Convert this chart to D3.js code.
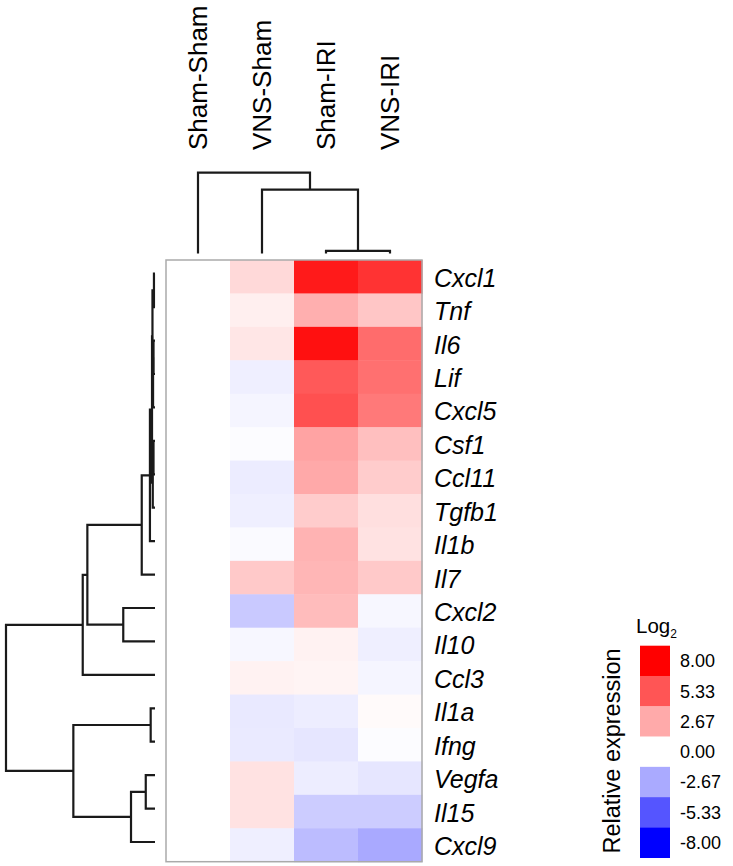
<!DOCTYPE html>
<html><head><meta charset="utf-8">
<script src="https://cdn.jsdelivr.net/npm/d3@7"></script>
<style>
body{margin:0;background:#fff}
svg{display:block}
text{font-family:"Liberation Sans",Arial,Helvetica,sans-serif;fill:#000}
</style>
</head><body>
<svg id="chart" width="733" height="866"></svg>
<script>
// ---------- data ----------
const genes = ["Cxcl1","Tnf","Il6","Lif","Cxcl5","Csf1","Ccl11","Tgfb1","Il1b","Il7","Cxcl2","Il10","Ccl3","Il1a","Ifng","Vegfa","Il15","Cxcl9"];
const groups = ["Sham-Sham","VNS-Sham","Sham-IRI","VNS-IRI"];
const shamSham = [0,0,0,0,0,0,0,0,0,0,0,0,0,0,0,0,0,0];
const vnsSham  = [1.2,0.5,0.8,-0.5,-0.3,-0.1,-0.6,-0.5,-0.15,1.7,-1.7,-0.25,0.4,-0.7,-0.65,0.9,0.9,-0.5];
const shamIRI  = [7.2,2.5,7.5,5.2,5.5,2.9,2.7,1.6,2.4,2.3,2.1,0.4,0.35,-0.55,-0.8,-0.55,-1.6,-2.1];
const vnsIRI   = [6.4,1.8,4.6,4.5,4.2,2.0,1.6,1.0,0.9,1.7,-0.25,-0.5,-0.3,0.15,-0.1,-0.8,-1.6,-2.7];
const legendTicks  = [8, 5.33, 2.67, 0, -2.67, -5.33, -8];
const legendLabels = ["8.00","5.33","2.67","0.00","-2.67","-5.33","-8.00"];
// row dendrogram merges: [node, left, right, height]
const rowMerges = [
  ["a","Cxcl1","Tnf",0.007],
  ["b","Il6","Lif",0.010],
  ["c","b","Cxcl5",0.013],
  ["d","a","c",0.017],
  ["e","Csf1","Ccl11",0.010],
  ["f","e","Tgfb1",0.015],
  ["g","d","f",0.020],
  ["F","g","Il1b",0.034],
  ["D","F","Il7",0.089],
  ["E","Cxcl2","Il10",0.213],
  ["C","D","E",0.454],
  ["A","C","Ccl3",0.485],
  ["H","Il1a","Ifng",0.029],
  ["J","Vegfa","Il15",0.062],
  ["I","J","Cxcl9",0.161],
  ["B","H","I",0.548],
  ["R","A","B",1.0]
];
// column dendrogram merges
const colMerges = [
  ["c1","Sham-IRI","VNS-IRI",0.033],
  ["c2","VNS-Sham","c1",0.79],
  ["c3","Sham-Sham","c2",1.0]
];

// ---------- layout ----------
const svg = d3.select("#chart");
const hm = {x0:166, x1:422, y0:260, y1:861.7};
const x = d3.scaleBand().domain(groups).range([hm.x0, hm.x1]);
const y = d3.scaleBand().domain(genes).range([hm.y0, hm.y1]);
const color = d3.scaleLinear().domain([-8,0,8]).range(["#0000ff","#ffffff","#ff0000"]).clamp(true);

const series = [shamSham, vnsSham, shamIRI, vnsIRI];
const cells = [];
groups.forEach((g,ci)=>genes.forEach((gene,ri)=>cells.push({g, gene, v: series[ci][ri]})));

svg.append("g").selectAll("rect").data(cells).join("rect")
  .attr("x", d=>x(d.g)).attr("y", d=>y(d.gene))
  .attr("width", x.bandwidth()+0.5).attr("height", y.bandwidth()+0.5)
  .attr("fill", d=>color(d.v));

svg.append("rect").attr("x",hm.x0).attr("y",hm.y0)
  .attr("width",hm.x1-hm.x0).attr("height",hm.y1-hm.y0)
  .attr("fill","none").attr("stroke","#aaaaaa").attr("stroke-width",1.5);

// gene labels
svg.append("g").selectAll("text").data(genes).join("text")
  .attr("x", 434).attr("y", d=>y(d)+y.bandwidth()/2+10)
  .attr("font-size", 25).attr("font-style","italic")
  .text(d=>d);

// column labels
svg.append("g").selectAll("text").data(groups).join("text")
  .attr("transform", d=>`translate(${x(d)+x.bandwidth()/2},150) rotate(-90)`)
  .attr("text-anchor","start").attr("dy","0.36em")
  .attr("font-size", 26)
  .text(d=>d);

// ---------- dendrograms ----------
function buildTree(merges){
  const nodes = {};
  merges.forEach(([id,l,r,h])=>{
    nodes[id] = {name:id, height:h, children:[nodes[l]||{name:l,height:0}, nodes[r]||{name:r,height:0}]};
  });
  return d3.hierarchy(nodes[merges[merges.length-1][0]]);
}
function drawDendro(root, leafPos, hPos, horizontal){
  root.eachAfter(n=>{
    n.p = n.children ? d3.mean(n.children, c=>c.p) : leafPos(n.data.name);
    n.h = hPos(n.data.height);
  });
  const segs = [];
  root.each(n=>{
    if(!n.children) return;
    const [a,b] = n.children;
    segs.push([[a.h,a.p],[n.h,a.p],[n.h,b.p],[b.h,b.p]]);
  });
  const line = d3.line().x(d=>horizontal?d[0]:d[1]).y(d=>horizontal?d[1]:d[0]);
  svg.append("g").selectAll("path").data(segs).join("path")
    .attr("d", line).attr("fill","none").attr("stroke","#1a1a1a").attr("stroke-width",2.2);
}
const rowH = d3.scaleLinear().domain([0,1]).range([155,6]);
drawDendro(buildTree(rowMerges), g=>y(g)+y.bandwidth()/2-3, rowH, true);
const colH = d3.scaleLinear().domain([0,1]).range([253.5,172.7]);
drawDendro(buildTree(colMerges), g=>x(g)+x.bandwidth()/2, colH, false);

// ---------- legend ----------
const ly = d3.scaleBand().domain(legendTicks).range([645.7, 857.7]);
const lg = svg.append("g");
lg.selectAll("rect").data(legendTicks).join("rect")
  .attr("x",640).attr("y",d=>ly(d)).attr("width",30).attr("height",ly.bandwidth()+0.3)
  .attr("fill",d=>color(d));
lg.selectAll("text.lab").data(legendTicks).join("text").attr("class","lab")
  .attr("x",680).attr("y",d=>ly(d)+ly.bandwidth()/2).attr("dy","0.36em")
  .attr("font-size",18).text((d,i)=>legendLabels[i]);
const title = lg.append("text").attr("x",636).attr("y",633).attr("font-size",20.5);
title.append("tspan").text("Log");
title.append("tspan").attr("font-size",12).attr("dy",5).text("2");
lg.append("text").attr("transform","translate(612,751) rotate(-90)")
  .attr("text-anchor","middle").attr("dy","0.36em").attr("font-size",23.5)
  .text("Relative expression");
</script>
</body></html>
